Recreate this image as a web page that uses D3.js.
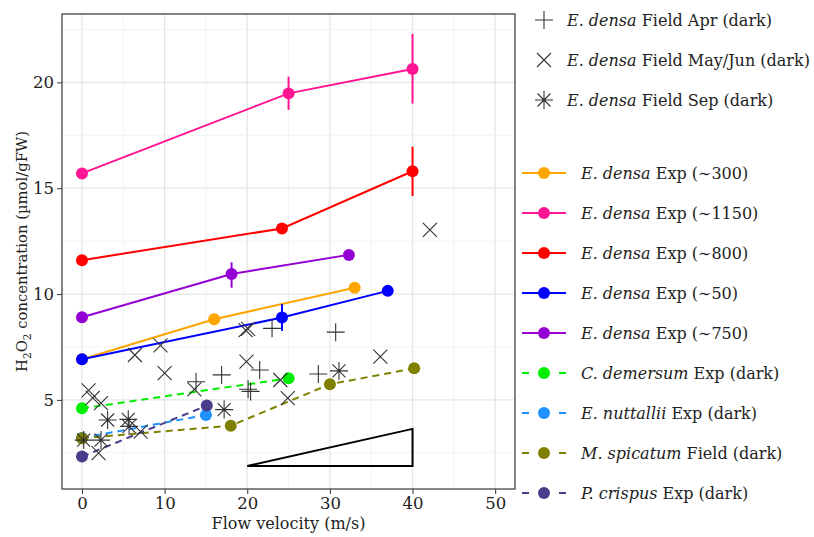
<!DOCTYPE html>
<html>
<head>
<meta charset="utf-8">
<script src="https://cdn.jsdelivr.net/npm/d3@7"></script>
<style>
  body { margin: 0; background: #fff; }
  svg text { font-family: "DejaVu Serif", serif; fill: #222; }
</style>
</head>
<body>
<svg width="814" height="537"></svg>
<script>
// ---- data ----
var xTicks = [0, 10, 20, 30, 40, 50]
var yTicks = [5, 10, 15, 20]

// experimental series (x = flow velocity, y = H2O2)
var ed300X = [0, 16, 33],        ed300Y = [6.92, 8.81, 10.3]
var ed1150X = [0, 25, 40],       ed1150Y = [15.7, 19.48, 20.63]
var ed800X = [0, 24.2, 40],      ed800Y = [11.6, 13.1, 15.8]
var ed50X = [0, 24.2, 37],       ed50Y = [6.92, 8.89, 10.15]
var ed750X = [0, 18.1, 32.3],    ed750Y = [8.9, 10.95, 11.85]
var cdemX = [0, 25],             cdemY = [4.6, 6.02]
var enutX = [0, 15],             enutY = [3.2, 4.29]
var mspiX = [0, 18, 24, 30, 40.2], mspiY = [3.19, 3.78, 4.76, 5.74, 6.49]
var mspiMarker = [true, true, false, true, true]
var pcriX = [0, 15.1],           pcriY = [2.32, 4.73]

// error bars [x, low, high]
var ed1150Err = [[25, 18.7, 20.27], [40, 19.0, 22.29]]
var ed800Err = [[24.2, 12.85, 13.35], [40, 14.63, 16.96]]
var ed50Err = [[24.2, 8.26, 9.53]]
var ed750Err = [[18.1, 10.3, 11.5]]

// field observations of E. densa in the dark
var fieldApr = [[13.8, 5.86], [16.9, 6.18], [20.1, 5.5], [20.4, 5.4], [21.5, 6.41],
  [23, 8.38], [28.6, 6.22], [30.7, 8.2]]
var fieldMay = [[0.8, 5.45], [1.3, 5.1], [2.3, 4.85], [6.4, 7.12], [9.5, 7.58],
  [10, 6.26], [13.6, 5.5], [19.8, 8.3], [20.1, 8.35], [19.9, 6.81], [24, 5.94],
  [24.9, 5.08], [36.1, 7.04], [42.1, 13.03], [2.0, 2.48], [7.1, 3.5]]
var fieldSep = [[0.2, 3.1], [2.3, 3.1], [3.1, 4.05], [5.6, 4.08], [5.7, 3.75],
  [17.2, 4.54], [31.1, 6.37]]

// slope triangle
var triangle = [[20, 1.88], [40, 1.88], [40, 3.63]]

var series = [
  { it: 'E. densa', rest: ' Exp (\u223C300)', color: '#FFA500', dash: false, x: ed300X, y: ed300Y, err: [] },
  { it: 'E. densa', rest: ' Exp (\u223C1150)', color: '#FF1493', dash: false, x: ed1150X, y: ed1150Y, err: ed1150Err },
  { it: 'E. densa', rest: ' Exp (\u223C800)', color: '#FF0000', dash: false, x: ed800X, y: ed800Y, err: ed800Err },
  { it: 'E. densa', rest: ' Exp (\u223C50)', color: '#0000FF', dash: false, x: ed50X, y: ed50Y, err: ed50Err },
  { it: 'E. densa', rest: ' Exp (\u223C750)', color: '#9400D3', dash: false, x: ed750X, y: ed750Y, err: ed750Err },
  { it: 'C. demersum', rest: ' Exp (dark)', color: '#00EE00', dash: true, x: cdemX, y: cdemY, err: [] },
  { it: 'E. nuttallii', rest: ' Exp (dark)', color: '#1E90FF', dash: true, x: enutX, y: enutY, err: [] },
  { it: 'M. spicatum', rest: ' Field (dark)', color: '#808000', dash: true, x: mspiX, y: mspiY, err: [], show: mspiMarker },
  { it: 'P. crispus', rest: ' Exp (dark)', color: '#483D8B', dash: true, x: pcriX, y: pcriY, err: [] }
]
var fieldSets = [
  { it: 'E. densa', rest: ' Field Apr (dark)', shape: 'plus', pts: fieldApr },
  { it: 'E. densa', rest: ' Field May/Jun (dark)', shape: 'cross', pts: fieldMay },
  { it: 'E. densa', rest: ' Field Sep (dark)', shape: 'star', pts: fieldSep }
]

// ---- layout ----
var L = 62, T = 14, R = 515, B = 489
var svg = d3.select('svg')
var x = d3.scaleLinear().domain([-2.42, 52.4]).range([L, R])
var y = d3.scaleLinear().domain([0.79, 23.23]).range([B, T])

var grid = svg.append('g')
d3.range(0, 55, 5).forEach(function (v) {
  if (x(v) < L || x(v) > R) return
  grid.append('line').attr('x1', x(v)).attr('x2', x(v)).attr('y1', T).attr('y2', B)
    .attr('stroke', v % 10 ? '#F3F3F3' : '#E6E6E6').attr('stroke-width', v % 10 ? 1 : 1.3)
})
d3.range(2.5, 23.5, 2.5).forEach(function (v) {
  grid.append('line').attr('x1', L).attr('x2', R).attr('y1', y(v)).attr('y2', y(v))
    .attr('stroke', v % 5 ? '#F3F3F3' : '#E6E6E6').attr('stroke-width', v % 5 ? 1 : 1.3)
})

var xAxis = svg.append('g').attr('transform', 'translate(0,' + B + ')')
  .call(d3.axisBottom(x).tickValues(xTicks).tickSize(5).tickPadding(3))
var yAxis = svg.append('g').attr('transform', 'translate(' + L + ',0)')
  .call(d3.axisLeft(y).tickValues(yTicks).tickSize(5).tickPadding(3))
;[xAxis, yAxis].forEach(function (a) {
  a.select('.domain').remove()
  a.selectAll('line').attr('stroke', '#333')
  a.selectAll('text').attr('font-size', 16.5).attr('fill', '#222')
    .style('font-family', '"DejaVu Serif", serif')
})

// ---- experimental lines, error bars, points ----
var line = d3.line().x(function (d) { return x(d[0]) }).y(function (d) { return y(d[1]) })
var plot = svg.append('g')
series.forEach(function (s) {
  var pts = s.x.map(function (v, i) { return [v, s.y[i]] })
  plot.append('path').attr('d', line(pts)).attr('fill', 'none')
    .attr('stroke', s.color).attr('stroke-width', 2)
    .attr('stroke-dasharray', s.dash ? '7,5' : null)
  s.err.forEach(function (e) {
    plot.append('line').attr('x1', x(e[0])).attr('x2', x(e[0]))
      .attr('y1', y(e[1])).attr('y2', y(e[2]))
      .attr('stroke', s.color).attr('stroke-width', 2)
  })
  pts.forEach(function (p, i) {
    if (s.show && !s.show[i]) return
    plot.append('circle').attr('cx', x(p[0])).attr('cy', y(p[1])).attr('r', 6)
      .attr('fill', s.color)
  })
})

// slope triangle
svg.append('path').attr('d', line(triangle) + 'Z').attr('fill', 'none')
  .attr('stroke', '#000').attr('stroke-width', 2)

// ---- field markers ----
function shapePath(shape, cx, cy) {
  var a = 9, c = 7, s = 6.5
  if (shape == 'plus') return 'M' + (cx - a) + ',' + cy + 'H' + (cx + a) + 'M' + cx + ',' + (cy - a) + 'V' + (cy + a)
  if (shape == 'cross') return 'M' + (cx - c) + ',' + (cy - c) + 'L' + (cx + c) + ',' + (cy + c) +
    'M' + (cx - c) + ',' + (cy + c) + 'L' + (cx + c) + ',' + (cy - c)
  return 'M' + (cx - a) + ',' + cy + 'H' + (cx + a) + 'M' + cx + ',' + (cy - a) + 'V' + (cy + a) +
    'M' + (cx - s) + ',' + (cy - s) + 'L' + (cx + s) + ',' + (cy + s) +
    'M' + (cx - s) + ',' + (cy + s) + 'L' + (cx + s) + ',' + (cy - s)
}
fieldSets.forEach(function (f) {
  f.pts.forEach(function (p) {
    svg.append('path').attr('d', shapePath(f.shape, x(p[0]), y(p[1])))
      .attr('stroke', '#333').attr('stroke-width', 1.1).attr('fill', 'none')
  })
})

// panel border
svg.append('rect').attr('x', L).attr('y', T).attr('width', R - L).attr('height', B - T)
  .attr('fill', 'none').attr('stroke', '#444').attr('stroke-width', 1.3)

// ---- axis titles ----
svg.append('text').attr('x', (L + R) / 2).attr('y', 529).attr('text-anchor', 'middle')
  .attr('font-size', 16).text('Flow velocity (m/s)')
var yt = svg.append('text').attr('transform', 'translate(27,' + ((T + B) / 2) + ') rotate(-90)')
  .attr('text-anchor', 'middle').attr('font-size', 14.8)
yt.append('tspan').text('H')
yt.append('tspan').attr('font-size', 10.5).attr('dy', 4).text('2')
yt.append('tspan').attr('dy', -4).text('O')
yt.append('tspan').attr('font-size', 10.5).attr('dy', 4).text('2')
yt.append('tspan').attr('dy', -4).text(' concentration (\u00B5mol/gFW)')

// ---- legend ----
var leg = svg.append('g')
function legText(g, tx, ty, d) {
  var t = g.append('text').attr('x', tx).attr('y', ty).attr('dy', '0.35em').attr('font-size', 16)
  t.append('tspan').attr('font-style', 'italic').text(d.it)
  t.append('tspan').text(d.rest)
}
fieldSets.forEach(function (f, i) {
  var cy = 20 + i * 40
  leg.append('path').attr('d', shapePath(f.shape, 544, cy))
    .attr('stroke', '#333').attr('stroke-width', 1.1).attr('fill', 'none')
  legText(leg, 567, cy, f)
})
series.forEach(function (s, i) {
  var cy = 173 + i * 40
  if (s.dash) {
    leg.append('path').attr('d', 'M522,' + cy + 'H529M559,' + cy + 'H566')
      .attr('stroke', s.color).attr('stroke-width', 2)
  } else {
    leg.append('line').attr('x1', 522).attr('x2', 566).attr('y1', cy).attr('y2', cy)
      .attr('stroke', s.color).attr('stroke-width', 2)
  }
  leg.append('circle').attr('cx', 544).attr('cy', cy).attr('r', 6).attr('fill', s.color)
  legText(leg, 581, cy, s)
})
</script>
</body>
</html>
